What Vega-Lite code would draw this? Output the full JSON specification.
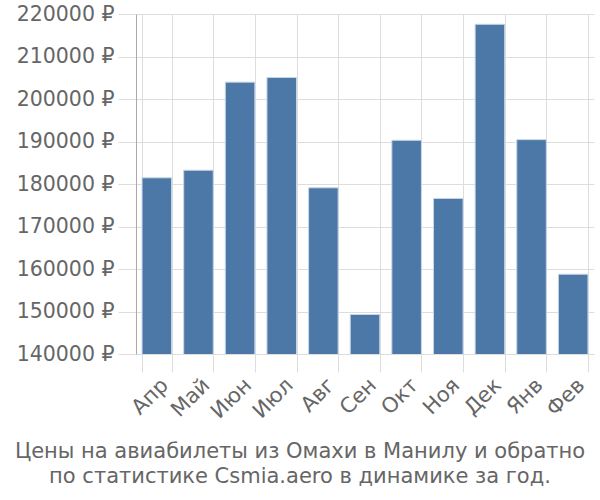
{
  "$schema": "https://vega.github.io/schema/vega-lite/v6.json",
  "width": 458,
  "height": 340,
  "autosize": {"type": "none"},
  "padding": {"left": 136, "top": 14, "right": 6, "bottom": 146},
  "background": "white",
  "data": {
    "values": [
      {"month": "Апр", "price": 181450},
      {"month": "Май", "price": 183240},
      {"month": "Июн", "price": 203970},
      {"month": "Июл", "price": 205060},
      {"month": "Авг", "price": 179100},
      {"month": "Сен", "price": 149300},
      {"month": "Окт", "price": 190280},
      {"month": "Ноя", "price": 176600},
      {"month": "Дек", "price": 217580},
      {"month": "Янв", "price": 190440},
      {"month": "Фев", "price": 158770}
    ]
  },
  "title": {
    "text": ["Цены на авиабилеты из Омахи в Манилу и обратно", "по статистике Csmia.aero в динамике за год."],
    "orient": "bottom",
    "anchor": "middle",
    "frame": "group",
    "font": "DejaVu Sans",
    "fontSize": 21,
    "fontWeight": "normal",
    "color": "#666666",
    "lineHeight": 25,
    "offset": 19,
    "dx": -65
  },
  "config": {
    "view": {"stroke": null},
    "font": "DejaVu Sans"
  },
  "mark": {"type": "bar", "color": "#4c78a8", "stroke": "#c8d6e6", "strokeWidth": 1, "clip": true},
  "encoding": {
    "x": {
      "field": "month",
      "type": "nominal",
      "sort": null,
      "scale": {"paddingInner": 0.29, "paddingOuter": 0.145},
      "axis": {
        "title": null,
        "tickBand": "extent",
        "labelAngle": -45,
        "labelFont": "DejaVu Sans",
        "labelFontSize": 21,
        "labelColor": "#666666",
        "labelPadding": 2,
        "tickSize": 18,
        "tickColor": "#dddddd",
        "domainColor": "#dddddd",
        "grid": true,
        "gridColor": "#dddddd"
      }
    },
    "y": {
      "field": "price",
      "type": "quantitative",
      "scale": {"domain": [140000, 220000], "nice": false, "zero": false},
      "axis": {
        "title": null,
        "values": [140000, 150000, 160000, 170000, 180000, 190000, 200000, 210000, 220000],
        "labelExpr": "datum.value + ' ₽'",
        "labelFont": "DejaVu Sans",
        "labelFontSize": 20.5,
        "labelColor": "#666666",
        "labelPadding": 4,
        "tickSize": 18,
        "tickColor": "#dddddd",
        "domainColor": "#aaaaaa",
        "gridColor": "#dddddd"
      }
    }
  }
}
